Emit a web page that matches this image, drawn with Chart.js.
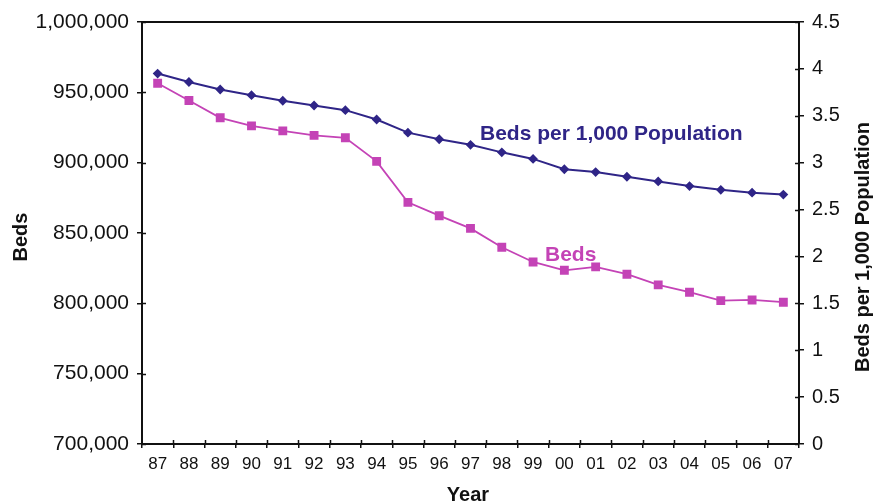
<!DOCTYPE html>
<html>
<head>
<meta charset="utf-8">
<script src="https://cdn.jsdelivr.net/npm/chart.js@4/dist/chart.umd.min.js"></script>
<style>
  html, body { margin: 0; padding: 0; background: #fff; }
  #wrap { width: 874px; height: 502px; position: relative; }
</style>
</head>
<body>
<div id="wrap"><canvas id="c" width="874" height="502"></canvas></div>
<script>
const years = ['87','88','89','90','91','92','93','94','95','96','97','98','99','00','01','02','03','04','05','06','07'];
const beds = [956500, 944200, 931900, 926200, 922600, 919400, 917700, 900900, 871800, 862300, 853300, 839900, 829400, 823500, 825900, 820700, 813100, 807900, 801900, 802400, 800800];
const bedsPer1000 = [3.95, 3.86, 3.78, 3.72, 3.66, 3.61, 3.56, 3.46, 3.32, 3.25, 3.19, 3.11, 3.04, 2.93, 2.90, 2.85, 2.80, 2.75, 2.71, 2.68, 2.66];
const leftTicks = [700000, 750000, 800000, 850000, 900000, 950000, 1000000];
const rightTicks = [0, 0.5, 1, 1.5, 2, 2.5, 3, 3.5, 4, 4.5];
const seriesNames = ['Beds', 'Beds per 1,000 Population'];
const axisTitles = { left: 'Beds', right: 'Beds per 1,000 Population', bottom: 'Year' };

const BLUE = '#2f2587';
const PINK = '#c443b6';
const FONT = "'Liberation Sans', Arial, Helvetica, sans-serif";

const fmt = v => v.toLocaleString('en-US');

const decor = {
  id: 'decor',
  afterDraw(chart) {
    const ctx = chart.ctx;
    const a = chart.chartArea;
    const x = chart.scales.x, y = chart.scales.y, y1 = chart.scales.y1;
    ctx.save();
    ctx.strokeStyle = '#111';
    ctx.lineWidth = 2;
    // top border
    ctx.beginPath();
    ctx.moveTo(a.left - 1, a.top);
    ctx.lineTo(a.right + 1, a.top);
    ctx.stroke();
    // inner tick halves
    ctx.lineWidth = 1.5;
    ctx.beginPath();
    leftTicks.forEach(v => {
      const py = Math.round(y.getPixelForValue(v)) + 0.5;
      ctx.moveTo(a.left, py); ctx.lineTo(a.left + 4, py);
    });
    rightTicks.forEach(v => {
      const py = Math.round(y1.getPixelForValue(v)) + 0.5;
      ctx.moveTo(a.right, py); ctx.lineTo(a.right - 4, py);
    });
    for (let i = 1; i < years.length; i++) {
      const px = Math.round((x.getPixelForValue(i - 1) + x.getPixelForValue(i)) / 2) + 0.5;
      ctx.moveTo(px, a.bottom); ctx.lineTo(px, a.bottom - 4);
    }
    ctx.stroke();

    // axis titles
    ctx.fillStyle = '#111';
    ctx.font = 'bold 20px ' + FONT;
    ctx.textAlign = 'center';
    ctx.textBaseline = 'alphabetic';
    ctx.fillText(axisTitles.bottom, 468, 501);

    ctx.save();
    ctx.translate(27, 237);
    ctx.rotate(-Math.PI / 2);
    ctx.textBaseline = 'alphabetic';
    ctx.fillText(axisTitles.left, 0, 0);
    ctx.restore();

    ctx.save();
    ctx.translate(869, 247);
    ctx.rotate(-Math.PI / 2);
    ctx.fillText(axisTitles.right, 0, 0);
    ctx.restore();

    // series annotations
    ctx.textAlign = 'left';
    ctx.font = 'bold 21px ' + FONT;
    ctx.fillStyle = BLUE;
    ctx.fillText(seriesNames[1], 480, 140);
    ctx.fillStyle = PINK;
    ctx.fillText(seriesNames[0], 545, 261);
    ctx.restore();
  }
};

new Chart(document.getElementById('c'), {
  type: 'line',
  data: {
    labels: years,
    datasets: [
      {
        label: seriesNames[1],
        data: bedsPer1000,
        yAxisID: 'y1',
        borderColor: BLUE,
        backgroundColor: BLUE,
        borderWidth: 2,
        pointStyle: 'rectRot',
        pointRadius: 3.5,
        pointHoverRadius: 3.5,
        tension: 0
      },
      {
        label: seriesNames[0],
        data: beds,
        yAxisID: 'y',
        borderColor: PINK,
        backgroundColor: PINK,
        borderWidth: 1.8,
        pointStyle: 'rect',
        pointRadius: 5,
        pointHoverRadius: 5,
        tension: 0
      }
    ]
  },
  options: {
    responsive: false,
    animation: false,
    events: [],
    layout: { padding: { top: 22, left: 0, right: 0, bottom: 0 } },
    plugins: { legend: { display: false }, tooltip: { enabled: false }, title: { display: false } },
    scales: {
      x: {
        type: 'category',
        offset: true,
        grid: { offset: true, drawOnChartArea: false, drawTicks: true, tickLength: 4, color: '#111', lineWidth: 1.5 },
        border: { display: true, color: '#111', width: 2 },
        ticks: { color: '#111', font: { family: FONT, size: 17 }, padding: 6, maxRotation: 0, autoSkip: false },
        afterFit(s) { s.height = 58; }
      },
      y: {
        position: 'left',
        min: 700000, max: 1000000,
        afterBuildTicks(s) { s.ticks = leftTicks.map(v => ({ value: v })); },
        grid: { drawOnChartArea: false, drawTicks: true, tickLength: 5, color: '#111', lineWidth: 1.5 },
        border: { display: true, color: '#111', width: 2 },
        ticks: { color: '#111', font: { family: FONT, size: 21 }, padding: 8, callback: v => fmt(v) },
        afterFit(s) { s.width = 142; }
      },
      y1: {
        position: 'right',
        min: 0, max: 4.5,
        afterBuildTicks(s) { s.ticks = rightTicks.map(v => ({ value: v })); },
        grid: { drawOnChartArea: false, drawTicks: true, tickLength: 5, color: '#111', lineWidth: 1.5 },
        border: { display: true, color: '#111', width: 2 },
        ticks: { color: '#111', font: { family: FONT, size: 20 }, padding: 8, callback: v => String(v) },
        afterFit(s) { s.width = 75; }
      }
    }
  },
  plugins: [decor]
});
</script>
</body>
</html>
